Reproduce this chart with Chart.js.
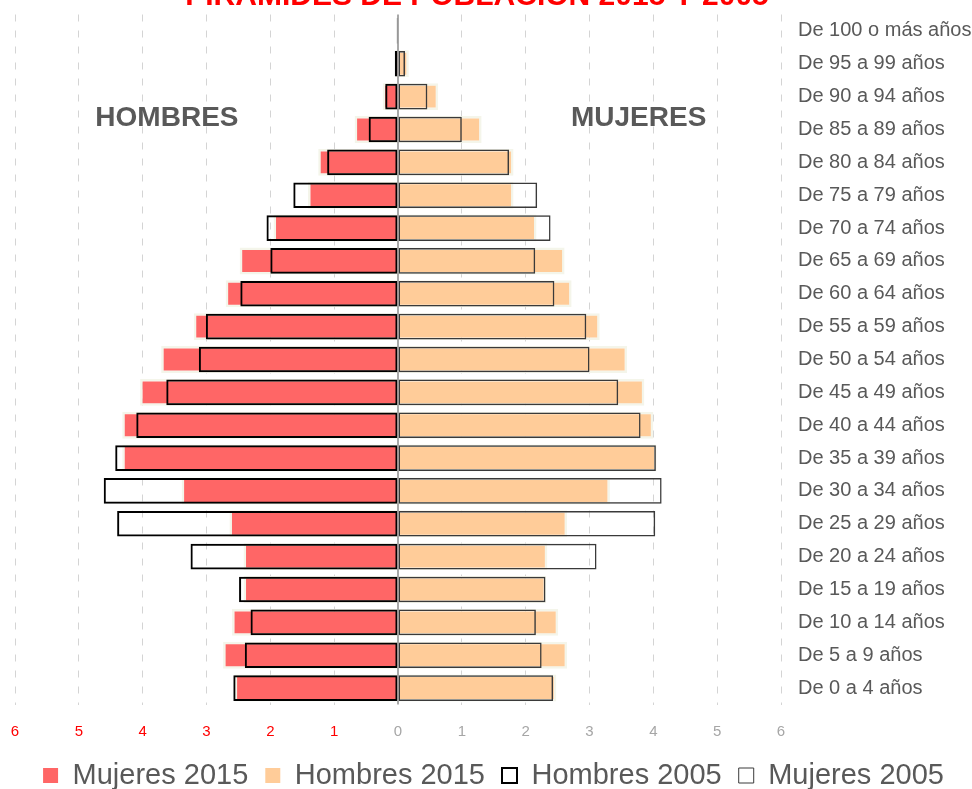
<!DOCTYPE html>
<html>
<head>
<meta charset="utf-8">
<script src="https://cdn.jsdelivr.net/npm/chart.js@4/dist/chart.umd.min.js"></script>
<style>
  html, body { margin: 0; padding: 0; background: #fff; overflow: hidden; height: 789px; }
  .wrap { position: relative; width: 972px; height: 800px; }
</style>
</head>
<body>
<div class="wrap"><canvas id="myChart"></canvas></div>
<script>
// grupos de edad, de arriba a abajo
let edades = [
    "De 100 o más años", "De 95 a 99 años", "De 90 a 94 años", "De 85 a 89 años",
    "De 80 a 84 años", "De 75 a 79 años", "De 70 a 74 años", "De 65 a 69 años",
    "De 60 a 64 años", "De 55 a 59 años", "De 50 a 54 años", "De 45 a 49 años",
    "De 40 a 44 años", "De 35 a 39 años", "De 30 a 34 años", "De 25 a 29 años",
    "De 20 a 24 años", "De 15 a 19 años", "De 10 a 14 años", "De 5 a 9 años",
    "De 0 a 4 años"
];
// porcentajes (lado izquierdo se dibuja en negativo)
let mujeres2015 = [0.01, 0.04, 0.24, 0.68, 1.25, 1.41, 1.95, 2.48, 2.70, 3.20, 3.71,
    4.04, 4.32, 4.32, 3.39, 2.64, 2.42, 2.42, 2.60, 2.74, 2.56];
let hombres2015 = [0.01, 0.17, 0.63, 1.31, 1.81, 1.81, 2.17, 2.61, 2.72, 3.16, 3.59,
    3.86, 4.00, 4.05, 3.32, 2.65, 2.34, 2.32, 2.51, 2.65, 2.48];
let hombres2005 = [0.02, 0.05, 0.20, 0.46, 1.11, 1.64, 2.06, 2.00, 2.47, 3.01, 3.12,
    3.63, 4.10, 4.43, 4.61, 4.40, 3.25, 2.49, 2.31, 2.40, 2.58];
let mujeres2005 = [0.01, 0.11, 0.46, 1.00, 1.74, 2.18, 2.39, 2.15, 2.45, 2.95, 3.00,
    3.45, 3.80, 4.04, 4.13, 4.03, 3.11, 2.31, 2.16, 2.25, 2.43];
let ejeX = [-6, -5, -4, -3, -2, -1, 0, 1, 2, 3, 4, 5, 6];

const grisTexto = "#595959";
const fuente = "'Liberation Sans', Arial, sans-serif";

// titulo, rotulos HOMBRES / MUJERES y linea del cero
const extras = {
    id: "extras",
    afterDatasetsDraw(chart) {
        const { ctx, chartArea, scales } = chart;
        const x0 = scales.x.getPixelForValue(0);
        ctx.save();
        ctx.strokeStyle = "#8c8c8c";
        ctx.lineWidth = 1.5;
        ctx.beginPath();
        ctx.moveTo(x0, chartArea.top);
        ctx.lineTo(x0, chartArea.bottom);
        ctx.stroke();
        ctx.restore();
    },
    afterDraw(chart) {
        const { ctx, scales } = chart;
        ctx.save();
        ctx.fillStyle = "#ff0000";
        ctx.font = "bold 30px " + fuente;
        ctx.textAlign = "center";
        ctx.textBaseline = "alphabetic";
        ctx.fillText("PIRÁMIDES DE POBLACIÓN 2015 Y 2005", 477, 5);

        ctx.fillStyle = grisTexto;
        ctx.font = "bold 28px " + fuente;
        ctx.textBaseline = "middle";
        ctx.fillText("HOMBRES", scales.x.getPixelForValue(-3.62), 118);
        ctx.fillText("MUJERES", scales.x.getPixelForValue(3.77), 118);
        ctx.restore();
    }
};

let ctx = document.getElementById("myChart").getContext("2d");
let chart = new Chart(ctx, {
    type: "bar",
    data: {
        labels: edades,
        datasets: [
            {
                label: "Mujeres 2015",
                data: mujeres2015.map(v => -v),
                backgroundColor: "#ff6666",
                borderColor: "#f4f5ea",
                borderWidth: 2.5,
                barPercentage: 0.82,
                categoryPercentage: 1,
                grouped: false,
                order: 2
            },
            {
                label: "Hombres 2015",
                data: hombres2015,
                backgroundColor: "#ffcc99",
                borderColor: "#f4f5ea",
                borderWidth: 2.5,
                barPercentage: 0.82,
                categoryPercentage: 1,
                grouped: false,
                order: 2
            },
            {
                label: "Hombres 2005",
                data: hombres2005.map(v => -v),
                backgroundColor: "rgba(255,255,255,0)",
                borderColor: "#000000",
                borderWidth: 2,
                borderSkipped: false,
                barPercentage: 0.78,
                categoryPercentage: 1,
                grouped: false,
                order: 1
            },
            {
                label: "Mujeres 2005",
                data: mujeres2005,
                backgroundColor: "rgba(255,255,255,0)",
                borderColor: "#3a3a3a",
                borderWidth: 1.5,
                borderSkipped: false,
                barPercentage: 0.78,
                categoryPercentage: 1,
                grouped: false,
                order: 1
            }
        ]
    },
    options: {
        indexAxis: "y",
        responsive: true,
        maintainAspectRatio: false,
        animation: false,
        layout: { padding: { left: 15, top: 14.5, right: 0, bottom: 0 } },
        plugins: {
            title: { display: false },
            tooltip: { enabled: false },
            legend: {
                position: "bottom",
                labels: {
                    font: { size: 29, family: fuente },
                    color: grisTexto,
                    boxWidth: 15,
                    boxHeight: 15,
                    padding: 17,
                    sort: (a, b) => a.datasetIndex - b.datasetIndex,
                    generateLabels: chart => {
                        let items = Chart.defaults.plugins.legend.labels.generateLabels(chart);
                        items.forEach(item => {
                            if (item.datasetIndex < 2) item.lineWidth = 0;
                            if (item.datasetIndex === 3) item.lineWidth = 1;
                        });
                        return items;
                    }
                }
            }
        },
        scales: {
            x: {
                min: -6,
                max: 6,
                afterBuildTicks: scale => { scale.ticks = ejeX.map(v => ({ value: v })); },
                afterFit: scale => {
                    scale.height = 39.5;
                    scale.paddingLeft = 0;
                    scale.paddingRight = 0;
                },
                ticks: {
                    stepSize: 1,
                    padding: 18,
                    font: { size: 15, family: fuente },
                    color: c => (c.tick && c.tick.value < 0 ? "#ff0000" : "#a6a6a6"),
                    callback: v => Math.abs(v)
                },
                grid: {
                    drawTicks: false,
                    color: c => (c.tick && c.tick.value === 0 ? "rgba(0,0,0,0)" : "#d4d4d4"),
                    lineWidth: 1
                },
                border: { display: false, dash: [7, 9] }
            },
            y: {
                position: "right",
                afterFit: scale => {
                    scale.width = 191;
                    scale.paddingTop = 0;
                    scale.paddingBottom = 0;
                },
                ticks: {
                    padding: 17,
                    font: { size: 20, family: fuente },
                    color: grisTexto
                },
                grid: { display: false, drawTicks: false },
                border: { display: false }
            }
        }
    },
    plugins: [extras]
});
</script>
</body>
</html>
